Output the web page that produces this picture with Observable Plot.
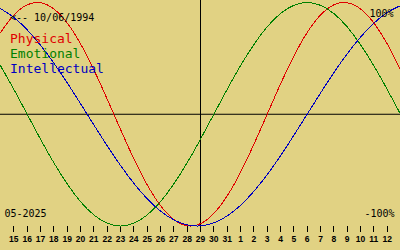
<!DOCTYPE html>
<html>
<head>
<meta charset="utf-8">
<script src="https://cdn.jsdelivr.net/npm/d3@7"></script>
<script src="https://cdn.jsdelivr.net/npm/@observablehq/plot@0.6"></script>
<style>
  html, body { margin: 0; padding: 0; background: #e1d283; }
  #chart svg { display: block; }
  #chart svg path { shape-rendering: crispEdges; }
</style>
</head>
<body>
<div id="chart"></div>
<script>
// Days shown on the x axis (May 14 .. June 13, 2025); index 15 = May 29
const days = [14,15,16,17,18,19,20,21,22,23,24,25,26,27,28,29,30,31,1,2,3,4,5,6,7,8,9,10,11,12,13];
const tickIdx = [1,2,3,4,5,6,7,8,9,10,11,12,13,14,15,16,17,18,19,20,21,22,23,24,25,26,27,28,29];
const todayIdx = 15;

// Series values (-1 .. 1), one per day
const physical = [0.731,0.888,0.979,0.998,0.942,0.817,0.631,0.398,0.136,-0.136,-0.398,-0.631,-0.817,-0.942,-0.998,-0.979,-0.888,-0.731,-0.520,-0.270,0,0.270,0.520,0.731,0.888,0.979,0.998,0.942,0.817,0.631,0.398];
const emotional = [0.434,0.223,0,-0.223,-0.434,-0.623,-0.782,-0.901,-0.975,-1,-0.975,-0.901,-0.782,-0.623,-0.434,-0.223,0,0.223,0.434,0.623,0.782,0.901,0.975,1,0.975,0.901,0.782,0.623,0.434,0.223,0];
const intellectual = [0.945,0.866,0.756,0.618,0.458,0.282,0.095,-0.095,-0.282,-0.458,-0.618,-0.756,-0.866,-0.945,-0.990,-0.999,-0.972,-0.910,-0.815,-0.690,-0.541,-0.372,-0.189,0,0.189,0.372,0.541,0.690,0.815,0.910,0.972];

const seriesNames = ["Physical","Emotional","Intellectual"];
const seriesColors = ["#e00000","#008000","#0000c0"];
const birthLabel = "<-- 10/06/1994";
const monthLabel = "05-2025";
const topLabel = "100%";
const bottomLabel = "-100%";

const idx = days.map((_, i) => i);
const mono = "DejaVu Sans Mono";

const chart = Plot.plot({
  width: 400,
  height: 250,
  marginTop: 2,
  marginBottom: 24.5,
  marginLeft: 0,
  marginRight: 0,
  style: { background: "#e1d283", fontFamily: mono, overflow: "visible" },
  x: { domain: [0, 30], axis: null },
  y: { domain: [-1, 1], axis: null },
  marks: [
    Plot.ruleY([0], { stroke: "black", strokeWidth: 1 }),
    Plot.ruleX([todayIdx], { stroke: "black", strokeWidth: 1, y1: -1.02, y2: 1.02 }),
    Plot.axisX({
      ticks: tickIdx,
      tickFormat: i => String(days[i]),
      tickSize: 6.5,
      tickPadding: 3,
      stroke: "black",
      fill: "black",
      fontSize: 8.5,
      fontWeight: "bold",
      fontFamily: "Liberation Sans",
      label: null
    }),
    Plot.line(idx, { x: i => i, y: i => physical[i], stroke: seriesColors[0], strokeWidth: 1, curve: "natural" }),
    Plot.line(idx, { x: i => i, y: i => emotional[i], stroke: seriesColors[1], strokeWidth: 1, curve: "natural" }),
    Plot.line(idx, { x: i => i, y: i => intellectual[i], stroke: seriesColors[2], strokeWidth: 1, curve: "natural" }),
    Plot.text([birthLabel], { frameAnchor: "top-left", textAnchor: "start", lineAnchor: "top", dx: 9.5, dy: 11, fontSize: 10, fontFamily: mono, fill: "black" }),
    Plot.text([topLabel], { frameAnchor: "top-right", textAnchor: "end", lineAnchor: "top", dx: -7, dy: 7, fontSize: 10, fontFamily: mono, fill: "black" }),
    Plot.text([monthLabel], { frameAnchor: "top-left", textAnchor: "start", lineAnchor: "top", dx: 4, dy: 207, fontSize: 10, fontFamily: mono, fill: "black" }),
    Plot.text([bottomLabel], { frameAnchor: "top-right", textAnchor: "end", lineAnchor: "top", dx: -6, dy: 207, fontSize: 10, fontFamily: mono, fill: "black" }),
    Plot.text([seriesNames[0]], { frameAnchor: "top-left", textAnchor: "start", lineAnchor: "top", dx: 9.5, dy: 31.3, fontSize: 13, fontFamily: mono, fill: seriesColors[0] }),
    Plot.text([seriesNames[1]], { frameAnchor: "top-left", textAnchor: "start", lineAnchor: "top", dx: 9.5, dy: 46.3, fontSize: 13, fontFamily: mono, fill: seriesColors[1] }),
    Plot.text([seriesNames[2]], { frameAnchor: "top-left", textAnchor: "start", lineAnchor: "top", dx: 9.5, dy: 61.3, fontSize: 13, fontFamily: mono, fill: seriesColors[2] })
  ]
});
document.getElementById("chart").appendChild(chart);
</script>
</body>
</html>
